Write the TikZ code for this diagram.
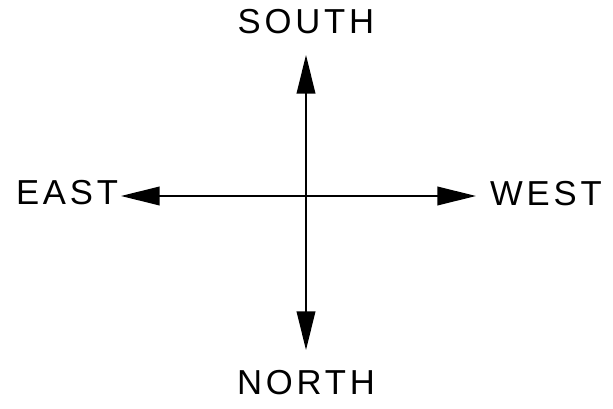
\documentclass[tikz,border=0pt]{standalone}
\usepackage{fontspec}
\setmainfont{Liberation Sans}
\newfontfamily\compassfont[LetterSpace=11]{Liberation Sans}
\usetikzlibrary{arrows.meta,positioning}

\begin{document}
\begin{tikzpicture}[x=0.75pt,y=-0.75pt,
    heading/.style={font=\compassfont\fontsize{26}{28}\selectfont,inner sep=0pt},
    pointer/.style={line width=1.2pt,-{Triangle[length=29pt,width=14pt]}}]
  \useasboundingbox (0,0) rectangle (613,409);
  % labels
  \node[heading] (south) at (306,22) {SOUTH};
  \node[heading] (north) at (306,383) {NORTH};
  \node[heading] (east) at (67,193) {EAST};
  \node[heading] (west) at (546,194) {WEST};
  % arrow ends
  \coordinate (centre) at (306,196);
  \coordinate (stip) at (306,55);
  \coordinate (ntip) at (306,350);
  \coordinate (etip) at (121,196);
  \coordinate (wtip) at (476,196);
  \draw[pointer] (centre) -- (stip);
  \draw[pointer] (centre) -- (ntip);
  \draw[pointer] (centre) -- (etip);
  \draw[pointer] (centre) -- (wtip);
\end{tikzpicture}
\end{document}
